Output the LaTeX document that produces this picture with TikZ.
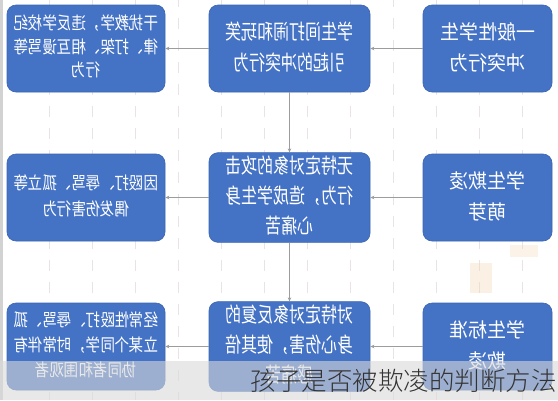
\documentclass[tikz,border=0pt]{standalone}
\usepackage{fontspec}
\usepackage{graphicx}
\newfontfamily\cjk{Noto Sans CJK SC}
\newfontfamily\cjklight{Noto Sans CJK SC Light}
\usetikzlibrary{arrows.meta}
\definecolor{boxblue}{HTML}{4472C4}
\definecolor{boxedge}{HTML}{3B65B0}
\definecolor{linegray}{HTML}{9C9C9C}
\definecolor{gridc}{HTML}{E9E3E3}
\definecolor{captc}{HTML}{333333}
\definecolor{overlayc}{HTML}{D9D9D9}
\definecolor{stampc}{HTML}{F3D7B4}
\definecolor{stripc}{HTML}{D2D2D2}
\newcommand{\mirtext}[4]{\scalebox{-1}[#2]{\fontsize{#1}{#3}\selectfont\begin{tabular}{@{}c@{}}#4\end{tabular}}}
\tikzset{
  bluebox/.style={rectangle, rounded corners=9pt, fill=boxblue, draw=boxedge, line width=0.6pt,
    text=white, inner sep=0pt, font=\cjk, minimum height=87pt},
  lbox/.style={bluebox, minimum width=158pt},
  mbox/.style={bluebox, minimum width=161pt},
  rbox/.style={bluebox, minimum width=129pt},
  conn/.style={draw=linegray, line width=0.7pt, -{Stealth[length=4pt,width=3.5pt]}},
  gridline/.style={draw=gridc, line width=0.8pt, dash pattern=on 11pt off 11pt}
}
\begin{document}
\begin{tikzpicture}[x=1pt,y=-1pt]
\useasboundingbox (0,0) rectangle (558,400);
\fill[white] (0,0) rectangle (558,400);
% faint grid
\foreach \gx in {49,92,135,178,221,264,307,350,393,436,479,522}
  \draw[gridline] (\gx,-4) -- (\gx,400);
\fill[stripc] (0,0) rectangle (3,400);
% faint stamp marks
\fill[stampc, opacity=0.35] (470,263) rectangle (492,293);
\fill[stampc, opacity=0.3] (510,245) rectangle (538,257);
% boxes
\node[rbox] (R1) at (487.5,48.5) {\mirtext{19}{1.05}{30}{一般性学生\\冲突行为}};
\node[rbox] (R2) at (487.5,197.5) {\mirtext{19}{1.05}{30}{学生欺凌\\萌芽}};
\node[rbox] (R3) at (487.5,346.5) {\mirtext{19}{1.05}{30}{学生标准\\欺凌}};
\node[mbox] (M1) at (289.5,48.5) {\mirtext{16}{1.3}{24}{学生间打闹和玩笑\\引起的冲突行为}};
\node[mbox] (M2) at (289.5,197.5) {\mirtext{16}{1.3}{23}{无特定对象的攻击\\行为，造成学生身\\心痛苦}};
\node[mbox] (M3) at (289.5,346.5) {\mirtext{16}{1.3}{23}{对特定对象反复的\\身心伤害，使其倍\\感痛苦}};
\node[lbox] (L1) at (86,48.5) {\mirtext{14.5}{1.2}{19.5}{干扰教学，违反学校纪\\律、打架、相互谩骂等\\行为}};
\node[lbox] (L2) at (86,197.5) {\mirtext{14.5}{1.2}{22}{因殴打、辱骂、孤立等\\偶发伤害行为}};
\node[lbox] (L3) at (86,346.5) {\mirtext{14.5}{1.2}{20.5}{经常性殴打、辱骂、孤\\立某个同学，时常伴有\\协同者和围观者}};
% connectors
\draw[conn] (R1.west) -- (M1.east);
\draw[conn] (M1.west) -- (L1.east);
\draw[conn] (R2.west) -- (M2.east);
\draw[conn] (M2.west) -- (L2.east);
\draw[conn] (R3.west) -- (M3.east);
\draw[conn] (M3.west) -- (L3.east);
\draw[conn] (M1.south) -- (M2.north);
\draw[conn] (M2.south) -- (M3.north);
% bottom overlay and caption
\fill[overlayc, opacity=0.6] (0,361) rectangle (558,400);
\node[anchor=east, inner sep=0pt, text=captc, font={\cjklight\fontsize{25.5}{30}\selectfont}] (cap) at (557,381) {孩子是否被欺凌的判断方法};
\end{tikzpicture}
\end{document}
